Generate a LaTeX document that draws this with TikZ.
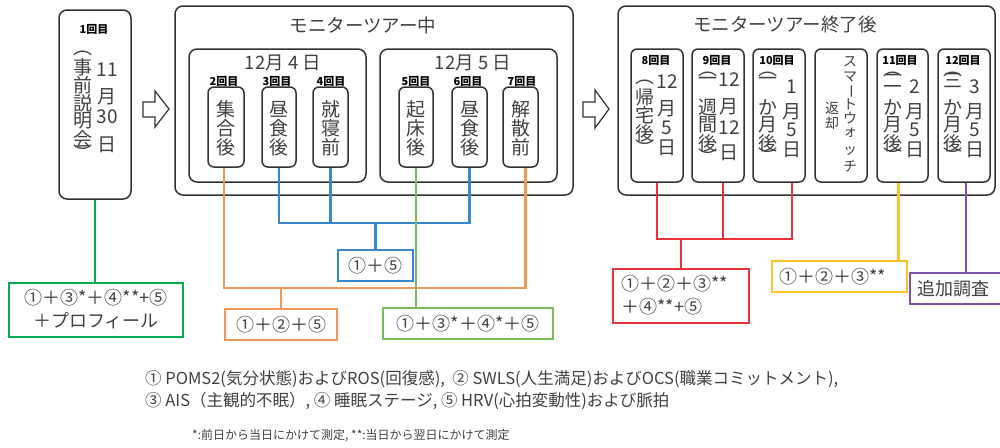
\documentclass[tikz,border=0pt]{standalone}
\usepackage{fontspec}
\setmainfont{Noto Sans CJK JP}
\usetikzlibrary{fit,calc}
\definecolor{dk}{HTML}{333333}
\definecolor{tx}{HTML}{404040}
\definecolor{cG}{HTML}{00B050}
\definecolor{cO}{HTML}{F0975A}
\definecolor{cB}{HTML}{3A88CC}
\definecolor{cLG}{HTML}{7CBB5C}
\definecolor{cR}{HTML}{EE3038}
\definecolor{cY}{HTML}{FFC12A}
\definecolor{cP}{HTML}{7D55A6}
\tikzset{
  bigbox/.style={draw=dk, line width=1.5pt, rounded corners=8pt, inner sep=0pt},
  smallbox/.style={draw=dk, line width=1.5pt, rounded corners=6pt, inner sep=0pt},
  lab/.style={font=\bfseries\fontsize{11}{12}\selectfont, inner sep=0pt, text=black},
  vc/.style={font=\fontsize{19}{20}\selectfont, inner sep=0pt, text=tx},
  vcs/.style={font=\fontsize{14}{15}\selectfont, inner sep=0pt, text=tx},
  ttl/.style={font=\fontsize{18.5}{20}\selectfont, inner sep=0pt, text=tx},
  cbox/.style={line width=2.5pt, inner sep=0pt},
  ctext/.style={font=\fontsize{18}{20}\selectfont, inner sep=0pt, text=tx, text height=13.6pt, text depth=0pt},
  conn/.style={line width=2.5pt},
  legend/.style={font=\fontsize{16.5}{20}\selectfont, inner sep=0pt, text=tx, anchor=west},
  note/.style={font=\fontsize{12}{13}\selectfont, inner sep=0pt, text=tx, anchor=west},
  harrow/.style={draw=dk, line width=1.2pt, fill=white, line join=miter}
}
\begin{document}
\begin{tikzpicture}[x=1pt,y=-1pt]
\useasboundingbox (0,0) rectangle (1000,447);

% ---------- box 1 ----------
\node[bigbox, fit={(59,10)(131,199)}] (B1) {};
\node[lab] (L1) at (94,29) {1回目};
\foreach \t/\y [count=\i] in {︵/53,事/67,前/85,説/103,明/121,会/139,︶/153}
  \node[vc] (B1l\i) at (83,\y) {\t};
\foreach \t/\y [count=\i] in {11/70,月/97,30/117,日/145}
  \node[vc] (B1r\i) at (107,\y) {\t};

% ---------- hollow arrows ----------
\path[harrow] (143,102) -- (155,102) -- (155,91) -- (169,109) -- (155,127) -- (155,117) -- (143,117) -- cycle;
\path[harrow] (583,102) -- (595,102) -- (595,90) -- (609,109) -- (595,128) -- (595,117) -- (583,117) -- cycle;

% ---------- during tour ----------
\node[bigbox, fit={(175,6)(573,195)}] (B2) {};
\node[ttl] (T2) at (363,25) {モニターツアー中};
\node[bigbox, fit={(189,49)(366,182)}] (D4) {};
\node[bigbox, fit={(380,49)(557,182)}] (D5) {};
\node[ttl] (T4) at (283,63) {12月 4 日};
\node[ttl] (T5) at (473,63) {12月 5 日};

\foreach \n/\xa/\xb/\lx/\ca/\cb/\cc in {
  2/208/244/224/集/合/後,
  3/262/296/277/昼/食/後,
  4/313/348/331/就/寝/前,
  5/399/433/416/起/床/後,
  6/452/487/468/昼/食/後,
  7/503/538/522/解/散/前}{
  \node[smallbox, fit={(\xa,87)(\xb,167)}] (b\n) {};
  \node[lab] (l\n) at (\lx,81) {\n 回目};
  \node[vc] (b\n a) at ($(b\n.center)+(0,-17.5)$) {\ca};
  \node[vc] (b\n b) at ($(b\n.center)+(0,1)$) {\cb};
  \node[vc] (b\n c) at ($(b\n.center)+(0,20)$) {\cc};
}

% ---------- after tour ----------
\node[bigbox, fit={(618,6)(995,195)}] (B3) {};
\node[ttl] (T3) at (785,25) {モニターツアー終了後};

\node[smallbox, fit={(631,49)(683,182)}] (b8) {};
\node[smallbox, fit={(692,49)(744,182)}] (b9) {};
\node[smallbox, fit={(753,49)(805,182)}] (b10) {};
\node[smallbox, fit={(815,49)(867,182)}] (bw) {};
\node[smallbox, fit={(877,49)(928,182)}] (b11) {};
\node[smallbox, fit={(938,49)(990,182)}] (b12) {};
\node[lab] (l8) at (656,60) {8回目};
\node[lab] (l9) at (717,60) {9回目};
\node[lab] (l10) at (777,60) {10回目};
\node[lab] (l11) at (900,60) {11回目};
\node[lab] (l12) at (963,60) {12回目};

\foreach \t/\y [count=\i] in {︵/82,帰/97,宅/115,後/133,︶/148}
  \node[vc] (c8l\i) at (645,\y) {\t};
\foreach \t/\y [count=\i] in {12/82,月/109,5/128,日/148}
  \node[vc] (c8r\i) at (667,\y) {\t};

\foreach \t/\y [count=\i] in {︵/74,一/81,週/107,間/125,後/143,︶/157}
  \node[vc] (c9l\i) at (708,\y) {\t};
\foreach \t/\y [count=\i] in {12/80,月/107,12/128,日/153}
  \node[vc] (c9r\i) at (729,\y) {\t};

\foreach \t/\y [count=\i] in {︵/74,一/81,か/107,月/125,後/143,︶/156}
  \node[vc] (c10l\i) at (768,\y) {\t};
\foreach \t/\y [count=\i] in {1/87,月/112,5/130,日/150}
  \node[vc] (c10r\i) at (792,\y) {\t};

\foreach \t/\y [count=\i] in {︵/74,二/81,か/107,月/125,後/143,︶/156}
  \node[vc] (c11l\i) at (893,\y) {\t};
\foreach \t/\y [count=\i] in {2/87,月/112,5/130,日/150}
  \node[vc] (c11r\i) at (915,\y) {\t};

\foreach \t/\y [count=\i] in {︵/74,三/81,か/107,月/125,後/143,︶/156}
  \node[vc] (c12l\i) at (953,\y) {\t};
\foreach \t/\y [count=\i] in {3/87,月/112,5/130,日/150}
  \node[vc] (c12r\i) at (975,\y) {\t};

\foreach \t/\y [count=\i] in {ス/62,マ/77,\rotatebox[origin=c]{-90}{ー}/91,ト/104,ウ/118,ォ/133,ッ/151,チ/166}
  \node[vcs] (cwr\i) at (850,\y) {\t};
\foreach \t/\y [count=\i] in {返/108,却/123}
  \node[vcs] (cwl\i) at (832,\y) {\t};

% ---------- result boxes ----------
\node[cbox, draw=cG, fit={(9,283)(183,337)}] (G1) {};
\node[ctext] (G1a) at (96,297.5) {①＋③*＋④**+⑤};
\node[ctext] (G1b) at (96,320.5) {＋プロフィール};
\node[cbox, draw=cB, fit={(338,250)(413,281)}] (BB) {};
\node[ctext] (BBt) at (BB.center) {①＋⑤};
\node[cbox, draw=cO, fit={(225,309)(337,340)}] (OB) {};
\node[ctext] (OBt) at (OB.center) {①＋②＋⑤};
\node[cbox, draw=cLG, fit={(383,308)(553,339)}] (LB) {};
\node[ctext] (LBt) at (LB.center) {①＋③*＋④*＋⑤};
\node[cbox, draw=cR, fit={(613,269)(749,323)}] (RB) {};
\node[ctext, anchor=west] (RBa) at (621,284) {①＋②＋③**};
\node[ctext, anchor=west] (RBb) at (621,307) {＋④**+⑤};
\node[cbox, draw=cY, fit={(772,261)(907,292)}] (YB) {};
\node[ctext, anchor=west] (YBt) at (779,277) {①＋②＋③**};
\node[cbox, draw=cP, fit={(910,273)(1008,304)}] (PB) {};
\node[ctext, anchor=west] (PBt) at (917,289) {追加調査};

% ---------- connectors ----------
\coordinate (yO) at (0,288);
\coordinate (yB) at (0,223);
\coordinate (yR) at (0,239);
\coordinate (p2) at ([xshift=-2]b2.south);
\coordinate (p7) at ([xshift=5]b7.south);
\coordinate (p9) at ([xshift=5]b9.south);
\coordinate (p10) at ([xshift=13]b10.south);
\coordinate (p11) at ([xshift=-4]b11.south);
\coordinate (p12) at ([xshift=2]b12.south);

\draw[conn, cG] (B1.south) -- (B1.south |- G1.north);
\draw[conn, cO] (p2) |- (p7 |- yO) -- (p7);
\draw[conn, cO] (OB.north |- yO) -- (OB.north);
\draw[conn, cB] (b3.south) |- (b6.south |- yB) -- (b6.south);
\draw[conn, cB] (b4.south) -- (b4.south |- yB);
\draw[conn, cB] (BB.north |- yB) -- (BB.north);
\draw[conn, cLG] (b5.south) -- (b5.south |- LB.north);
\draw[conn, cR] (b8.south) |- (p10 |- yR) -- (p10);
\draw[conn, cR] (p9) -- (p9 |- yR);
\draw[conn, cR] (RB.north |- yR) -- (RB.north);
\draw[conn, cY] (p11) -- (p11 |- YB.north);
\draw[conn, cP] (p12) -- (p12 |- PB.north);

% ---------- legend ----------
\node[legend] (LG1) at (145,379) {① POMS2(気分状態)およびROS(回復感),\ \ ② SWLS(人生満足)およびOCS(職業コミットメント),};
\node[legend] (LG2) at (145,401) {③ AIS（主観的不眠）, ④ 睡眠ステージ, ⑤ HRV(心拍変動性)および脈拍};
\node[note] (LG3) at (192,436) {*:前日から当日にかけて測定, **:当日から翌日にかけて測定};
\end{tikzpicture}
\end{document}
